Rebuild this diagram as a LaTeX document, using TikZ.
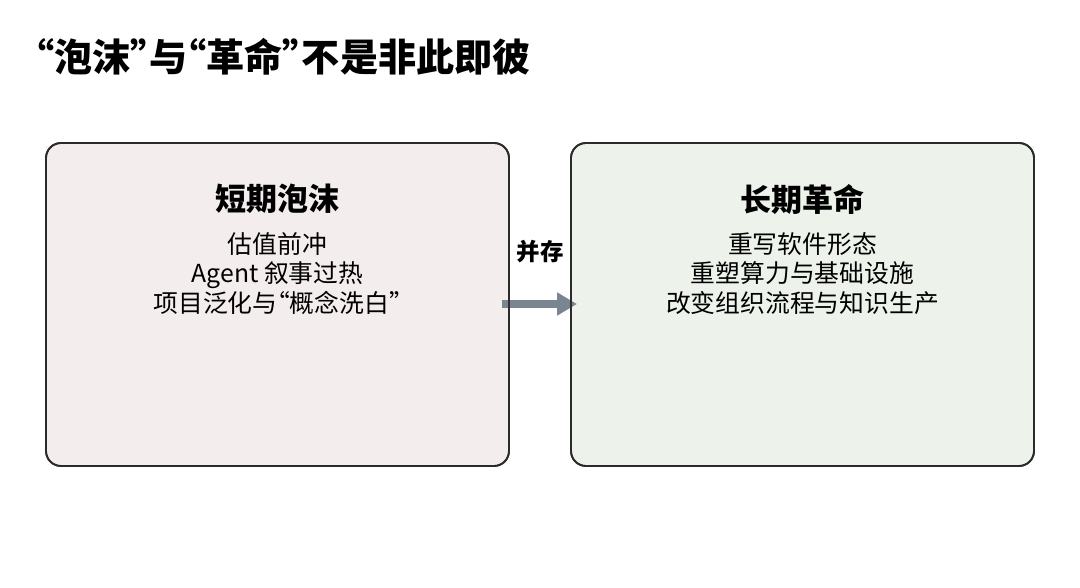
\documentclass[tikz,border=0pt]{standalone}
\usepackage{fontspec}
\setmainfont{Noto Sans CJK SC}
\newfontfamily\qf{Noto Sans CJK SC}[RawFeature=+halt]
\newcommand{\lqt}{{\qf “}}
\newcommand{\rqt}{{\qf ”}}
\usetikzlibrary{arrows.meta}
\definecolor{pinkfill}{HTML}{F4EDED}
\definecolor{greenfill}{HTML}{EDF3EB}
\definecolor{bordercol}{HTML}{2B2B2B}
\definecolor{arrowcol}{HTML}{7A8591}
\tikzset{
  panel/.style={draw=bordercol, line width=1.8pt, rounded corners=15pt, minimum width=463pt, minimum height=323pt, inner sep=0pt},
  head/.style={font=\fontsize{31pt}{36pt}\selectfont\bfseries, inner sep=0pt},
  body/.style={font=\fontsize{24.8pt}{29.5pt}\selectfont, align=center, inner sep=0pt},
  flow/.style={draw=arrowcol, line width=8pt, -{Triangle[length=20pt,width=22pt]}}
}
\begin{document}
\begin{tikzpicture}[x=1pt,y=-1pt]
\useasboundingbox[fill=white] (0,0) rectangle (1080,587);
\node[anchor=west, inner sep=0pt, font=\fontsize{38.1pt}{42pt}\selectfont\bfseries] (title) at (35,57) {\lqt 泡沫\rqt 与\lqt 革命\rqt 不是非此即彼};
\node[panel, fill=pinkfill] (left) at (277.5,304.5) {};
\node[panel, fill=greenfill] (right) at (802.5,304.5) {};
\coordinate (a0) at (502,304);
\coordinate (a1) at (577,304);
\draw[flow] (a0) -- (a1);
\node[panel] at (277.5,304.5) {};
\node[panel] at (802.5,304.5) {};
\node[font=\fontsize{23.5pt}{27pt}\selectfont\bfseries, inner sep=0pt] (coex) at (540,252) {并存};
\node[head] (lh) at (277.5,199) {短期泡沫};
\node[body, anchor=north] (lb) at (277.5,232) {估值前冲\\Agent 叙事过热\\项目泛化与\lqt 概念洗白\rqt};
\node[head] (rh) at (802.5,199) {长期革命};
\node[body, anchor=north] (rb) at (802.5,232) {重写软件形态\\重塑算力与基础设施\\改变组织流程与知识生产};
\end{tikzpicture}
\end{document}
